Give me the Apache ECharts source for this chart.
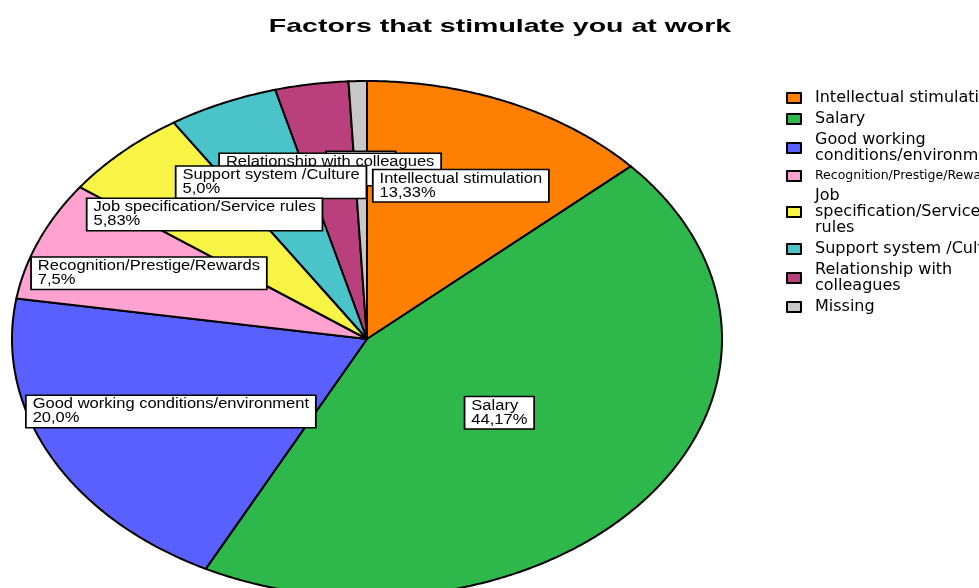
<!DOCTYPE html>
<html>
<head>
<meta charset="utf-8">
<script src="https://cdn.jsdelivr.net/npm/echarts@6/dist/echarts.min.js"></script>
<style>
  html, body { margin: 0; padding: 0; background: #fff; }
  #chart { width: 979px; height: 588px; }
</style>
</head>
<body>
<div id="chart"></div>
<script>
// Survey answers: share of respondents (%) per factor
const categories = [
  'Intellectual stimulation',
  'Salary',
  'Good working conditions/environment',
  'Recognition/Prestige/Rewards',
  'Job specification/Service rules',
  'Support system /Culture',
  'Relationship with colleagues',
  'Missing'
];
const percentages = [13.33, 44.17, 20.0, 7.5, 5.83, 5.0, 3.33, 0.83];

// Legend entries, wrapped the way the legend shows them
const legendLabels = [
  'Intellectual stimulation',
  'Salary',
  'Good working\nconditions/environment',
  '{small|Recognition/Prestige/Rewards}',
  'Job\nspecification/Service\nrules',
  'Support system /Culture',
  'Relationship with\ncolleagues',
  'Missing'
];

const sliceColors = ['#ff8000', '#2eb84b', '#5a60ff', '#ffa2d0', '#f8f446', '#4ac4c8', '#b9407d', '#c8c8c8'];

// Elliptical pie geometry (the pie is stretched horizontally)
const PIE = { cx: 367, cy: 339, rx: 355, ry: 258 };
const LABEL_RADIUS = 0.665;
const labelRadiusOverride = {
  'Intellectual stimulation': 0.65,
  'Salary': 0.47,
  'Good working conditions/environment': 0.62
};
const TEXT_STRETCH = 1.18;
const LABEL_FONT = '14px "Liberation Sans", Arial, sans-serif';
const LABEL_PAD = [2, 5, 1, 5];

const total = percentages.reduce((a, b) => a + b, 0);
const starts = [];
let acc = 0;
percentages.forEach(v => { starts.push(acc); acc += v; });

const measureCtx = document.createElement('canvas').getContext('2d');
measureCtx.font = LABEL_FONT;
function textWidth(lines) {
  return Math.max.apply(null, lines.map(l => measureCtx.measureText(l).width));
}

function ellipsePoint(theta, f) {
  return [PIE.cx + PIE.rx * f * Math.sin(theta), PIE.cy - PIE.ry * f * Math.cos(theta)];
}

function formatPercent(v) {
  let s = v.toFixed(2);
  if (s.endsWith('0')) s = s.slice(0, -1);
  return s.replace('.', ',') + '%';
}

function renderSlice(params, api) {
  const i = params.dataIndex;
  const v = api.value(0);
  const a0 = starts[i] / total * Math.PI * 2;
  const a1 = (starts[i] + v) / total * Math.PI * 2;
  const steps = Math.max(2, Math.ceil((a1 - a0) / (Math.PI / 360)));
  const pts = [[PIE.cx, PIE.cy]];
  for (let k = 0; k <= steps; k++) {
    pts.push(ellipsePoint(a0 + (a1 - a0) * k / steps, 1));
  }
  const name = categories[i];
  const f = labelRadiusOverride[name] !== undefined ? labelRadiusOverride[name] : LABEL_RADIUS;
  const lp = ellipsePoint((a0 + a1) / 2, f);
  const lines = [name, formatPercent(v)];
  const boxW = (textWidth(lines) + LABEL_PAD[1] + LABEL_PAD[3]) * TEXT_STRETCH;
  return {
    type: 'group',
    children: [
      {
        type: 'polygon',
        z2: i,
        shape: { points: pts },
        style: { fill: sliceColors[i], stroke: '#000', lineWidth: 2, lineJoin: 'round' }
      },
      {
        type: 'text',
        x: lp[0] - boxW / 2,
        y: lp[1],
        scaleX: TEXT_STRETCH,
        z2: 100 - i,
        style: {
          text: lines.join('\n'),
          font: LABEL_FONT,
          lineHeight: 14,
          fill: '#000',
          align: 'left',
          verticalAlign: 'middle',
          backgroundColor: '#fff',
          borderColor: '#000',
          borderWidth: 1.5,
          padding: LABEL_PAD
        }
      }
    ]
  };
}

const chart = echarts.init(document.getElementById('chart'), null, { renderer: 'canvas' });
chart.setOption({
  animation: false,
  backgroundColor: '#fff',
  graphic: [{
    type: 'text',
    x: 500,
    y: 27,
    scaleX: 1.5,
    style: {
      text: 'Factors that stimulate you at work',
      font: 'bold 19px "Liberation Sans", Arial, sans-serif',
      fill: '#000',
      align: 'center',
      verticalAlign: 'middle'
    }
  }],
  legend: {
    orient: 'vertical',
    left: 786,
    top: 90,
    padding: 0,
    itemGap: 5,
    itemWidth: 14,
    itemHeight: 10,
    icon: 'rect',
    selectedMode: false,
    itemStyle: { borderColor: '#000', borderWidth: 2 },
    textStyle: {
      fontFamily: 'DejaVu Sans',
      fontSize: 16,
      lineHeight: 16,
      color: '#000',
      padding: [0, 0, 0, 9],
      rich: {
        small: { fontFamily: 'DejaVu Sans', fontSize: 12.5, lineHeight: 14, color: '#000' }
      }
    },
    formatter: name => legendLabels[categories.indexOf(name)],
    data: categories
  },
  series: [
    {
      type: 'custom',
      coordinateSystem: 'none',
      renderItem: renderSlice,
      data: percentages.map(v => [v])
    },
    {
      // carries item names and colours for the legend
      type: 'pie',
      radius: [0, 0],
      center: [-50, -50],
      silent: true,
      label: { show: false },
      labelLine: { show: false },
      data: categories.map((n, i) => ({ name: n, value: percentages[i], itemStyle: { color: sliceColors[i] } }))
    }
  ]
});
</script>
</body>
</html>
